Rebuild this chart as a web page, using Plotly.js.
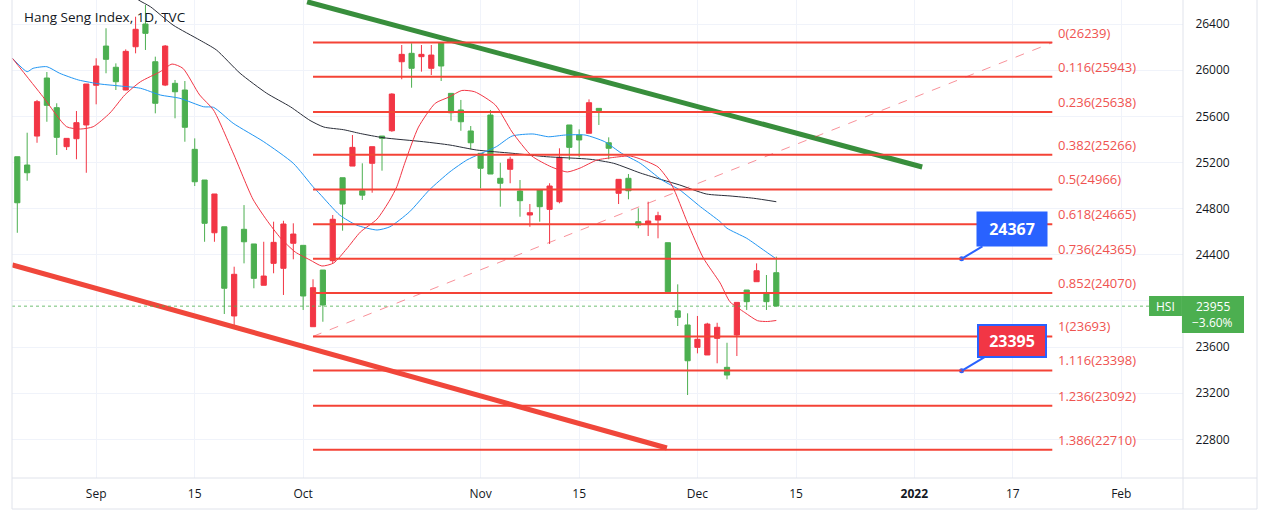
<!DOCTYPE html>
<html>
<head>
<meta charset="utf-8">
<script src="https://cdn.plot.ly/plotly-3.0.1.min.js"></script>
<style>html,body{margin:0;padding:0;background:#fff;}#chart{width:1269px;height:522px;}</style>
</head>
<body>
<div id="chart"></div>
<script>
// ---- Data ----
const dates = ['2021-08-20','2021-08-23','2021-08-24','2021-08-25','2021-08-26','2021-08-27','2021-08-30','2021-08-31',
'2021-09-01','2021-09-02','2021-09-03','2021-09-06','2021-09-07','2021-09-08','2021-09-09','2021-09-10','2021-09-13','2021-09-14','2021-09-15','2021-09-16','2021-09-17','2021-09-20','2021-09-21','2021-09-23','2021-09-24','2021-09-27','2021-09-28','2021-09-29','2021-09-30',
'2021-10-04','2021-10-05','2021-10-06','2021-10-07','2021-10-08','2021-10-11','2021-10-12','2021-10-15','2021-10-18','2021-10-19','2021-10-20','2021-10-21','2021-10-22','2021-10-25','2021-10-26','2021-10-27','2021-10-28','2021-10-29',
'2021-11-01','2021-11-02','2021-11-03','2021-11-04','2021-11-05','2021-11-08','2021-11-09','2021-11-10','2021-11-11','2021-11-12','2021-11-15','2021-11-16','2021-11-17','2021-11-18','2021-11-19','2021-11-22','2021-11-23','2021-11-24','2021-11-25','2021-11-26','2021-11-29','2021-11-30',
'2021-12-01','2021-12-02','2021-12-03','2021-12-06','2021-12-07','2021-12-08','2021-12-09','2021-12-10','2021-12-13'];

const opens  = [25250,25178,25429,25932,25675,25337,25406,25525,25869,26209,26025,25828,26203,26400,26073,25871,25886,25828,25314,25048,24591,24643,23870,24621,24494,24136,24326,24283,24500,
24482,23777,24268,24349,25068,25169,24955,25193,25429,25475,26073,26146,26117,26016,26238,25799,25655,25473,
25279,25611,25063,25141,24953,24745,24962,24794,24860,25525,25438,25453,25669,25371,24933,25063,24687,24667,24701,24505,23915,23792,
23598,23532,23676,23425,23705,24095,24167,24071,24245];
const highs  = [25250,25458,25742,25984,25713,25409,25646,25880,26103,26363,26059,26180,26463,26565,26117,26218,25915,25906,25409,25048,24927,24643,24297,24831,24494,24513,24687,24695,24673,
24482,24188,24268,24745,25068,25438,25193,25337,25429,25800,26218,26233,26218,26218,26238,25799,25742,25516,
25279,25655,25198,25250,25048,24840,24962,25020,25323,25525,25487,25747,25669,25418,25054,25100,24803,24860,24773,24505,24144,23893,
23870,23811,23811,23638,23988,24095,24326,24225,24384];
const lows   = [24591,25042,25371,25553,25265,25308,25228,25111,25704,25973,25828,25826,26146,26175,25626,25862,25583,25380,24996,24513,24513,23887,23792,24326,24110,24136,24240,24052,24361,
23922,23777,23820,24326,24609,25169,24875,24938,25129,25466,25921,25848,25987,25958,25906,25562,25475,25314,
24976,25100,24817,25020,24730,24643,24687,24494,24846,25221,25245,25453,25525,25228,24840,24881,24630,24563,24543,24080,23783,23185,
23546,23532,23460,23321,23523,23922,24167,23922,23956];
const closes = [24851,25111,25727,25695,25418,25409,25545,25880,26036,26094,25900,26163,26354,26319,25713,26209,25813,25505,25033,24673,24927,24110,24231,24513,24196,24216,24508,24667,24580,
24043,24115,23965,24708,24840,25331,24917,25337,25409,25793,26137,26016,26137,26131,26036,25631,25553,25371,
25150,25100,25020,25228,24869,24765,24817,24996,25245,25331,25395,25718,25649,25323,25054,24955,24658,24693,24739,24080,23858,23482,
23668,23800,23772,23358,23988,23994,24262,23994,23956];

// Moving averages sampled along the drawn lines (bar position, value)
const maFastX = [-0.5,2.6,5.0,6.4,7.7,9.4,10.9,12.5,14.5,15.7,16.8,18.5,19.9,21.9,23.9,25.3,26.7,28.2,29.7,30.9,32.1,33.4,34.8,36.5,37.8,38.5,39.3,40.7,42.4,43.8,45.1,46.4,48.5,50.2,52.2,54.2,55.8,57.1,58.8,60.4,62.2,63.5,65.0,66.4,68.0,69.6,71.3,72.3,73.8,75.1,76.1,77.0];
const maFastV = [26103,25770,25510,25490,25510,25629,25785,25900,25987,26053,26016,25785,25655,25282,24883,24701,24546,24424,24355,24303,24329,24450,24597,24710,24875,24990,25193,25507,25713,25767,25824,25813,25698,25464,25256,25161,25118,25152,25221,25243,25256,25221,25161,25005,24676,24372,24156,23993,23900,23829,23822,23831];
const maMidX = [-0.5,1.0,1.6,3.0,4.3,6.2,8.4,10.4,12.5,14.5,16.5,18.9,19.9,21.9,25.0,28.0,30.0,30.7,32.7,34.4,36.5,37.8,39.8,41.8,43.9,45.6,46.9,48.6,50.2,52.3,53.9,55.6,57.6,59.6,61.3,63.2,65.4,67.2,69.3,71.3,72.0,74.0,75.7,76.9];
const maMidV = [26103,25987,26016,26030,25973,25915,25880,25863,25843,25785,25756,25683,25678,25540,25380,25193,24990,24927,24745,24658,24615,24643,24773,24962,25120,25221,25273,25337,25429,25447,25423,25438,25438,25380,25280,25193,25048,24962,24817,24687,24630,24543,24442,24370];
const maSlowX = [11.4,12.3,13.5,15.8,18.5,20.2,22.6,25.3,27.7,29.7,31.1,33.1,34.8,37.1,41.2,43.9,46.6,50.2,53.7,58.1,60.5,63.2,65.5,67.2,69.9,72.3,74.7,77.0];
const maSlowV = [26677,26608,26550,26391,26261,26175,25973,25800,25683,25564,25507,25484,25451,25415,25380,25351,25308,25280,25250,25228,25193,25109,25048,25005,24927,24910,24890,24860];

// Fibonacci retracement levels
const fibRatios = ['0','0.116','0.236','0.382','0.5','0.618','0.736','0.852','1','1.116','1.236','1.386'];
const fibPrices = [26239,25943,25638,25266,24966,24665,24365,24070,23693,23398,23092,22710];
const fibStartBar = 30, fibEndBar = 105;

// Trend lines (bar position, price)
const greenTrend = {x:[29.4, 91.8], y:[26593, 25161]};
const redTrend   = {x:[-0.5, 65.9], y:[24312, 22726]};

// Price notes
const noteBlue = {bar:95.8, price:24365, text:'24367'};
const noteRed  = {bar:95.8, price:23395, text:'23395'};
const lastPrice = 23955, lastChange = '−3.60%', symbol = 'HSI';

// Axis ticks
const xTickBars = [8,18,29,47,57,69,79,91,101,112];
const xTickText = ['Sep','15','Oct','Nov','15','Dec','15','<b>2022</b>','17','Feb'];
const yTicks = [22800,23200,23600,24000,24400,24800,25200,25600,26000,26400];
const yTickText = ['22800','23200','23600','','24400','24800','25200','25600','26000','26400'];

// ---- Build chart ----
const FONT = 'Open Sans, Roboto, sans-serif';
const RED = '#f23645', GREEN = '#4caf50', BLUE = '#2962ff';
const barIdx = dates.map((d,i)=>i);

const traces = [
  {type:'candlestick', x:barIdx, open:opens, high:highs, low:lows, close:closes,
   increasing:{line:{color:RED,width:1}, fillcolor:RED},
   decreasing:{line:{color:GREEN,width:1}, fillcolor:GREEN},
   whiskerwidth:0, hoverinfo:'skip'},
  {type:'scatter', mode:'lines', x:maSlowX, y:maSlowV, line:{color:'#2a2e39',width:1,shape:'spline',smoothing:0.6}, hoverinfo:'skip'},
  {type:'scatter', mode:'lines', x:maMidX, y:maMidV, line:{color:'#2196f3',width:1,shape:'spline',smoothing:0.6}, hoverinfo:'skip'},
  {type:'scatter', mode:'lines', x:maFastX, y:maFastV, line:{color:'#f23645',width:1,shape:'spline',smoothing:0.6}, hoverinfo:'skip'},
  {type:'scatter', mode:'lines', x:greenTrend.x, y:greenTrend.y, line:{color:'#388e3c',width:5}, hoverinfo:'skip'},
  {type:'scatter', mode:'lines', x:redTrend.x, y:redTrend.y, line:{color:'#f0473b',width:5}, hoverinfo:'skip'},
  {type:'scatter', mode:'markers', x:[noteBlue.bar, noteRed.bar], y:[noteBlue.price, noteRed.price],
   marker:{size:5,color:BLUE}, hoverinfo:'skip'}
];

const shapes = [];
fibPrices.forEach(p=>{
  shapes.push({type:'line', xref:'x', yref:'y', x0:fibStartBar, x1:fibEndBar, y0:p, y1:p,
    line:{color:'#f44336', width:2}});
});
shapes.push({type:'line', xref:'x', yref:'y', x0:fibStartBar, x1:fibEndBar, y0:fibPrices[8], y1:fibPrices[0],
  line:{color:'rgba(242,54,69,0.55)', width:1, dash:'dash'}});
shapes.push({type:'line', xref:'paper', yref:'y', x0:0, x1:0.971, y0:lastPrice, y1:lastPrice,
  line:{color:'rgba(76,175,80,0.8)', width:1, dash:'dot'}});
const G = '#e0e3eb';
const pB = -31/478;
shapes.push({type:'line', xref:'paper', yref:'paper', x0:1, x1:1, y0:pB, y1:1, line:{color:G,width:1}});
shapes.push({type:'line', xref:'paper', yref:'paper', x0:0, x1:1.0632, y0:0, y1:0, line:{color:G,width:1}});
shapes.push({type:'line', xref:'paper', yref:'paper', x0:0, x1:1.0632, y0:pB, y1:pB, line:{color:G,width:1}});
shapes.push({type:'line', xref:'paper', yref:'paper', x0:0, x1:0, y0:pB, y1:1, line:{color:G,width:1}});
shapes.push({type:'line', xref:'paper', yref:'paper', x0:1.0632, x1:1.0632, y0:pB, y1:1, line:{color:G,width:1}});
shapes.push({type:'rect', xref:'paper', yref:'paper', x0:0.971, x1:0.9991, y0:0.3389, y1:0.3808, fillcolor:GREEN, line:{width:0}});
shapes.push({type:'rect', xref:'paper', yref:'paper', x0:0.9991, x1:1.0521, y0:0.3033, y1:0.3808, fillcolor:GREEN, line:{width:0}});

const annotations = [];
fibPrices.forEach((p,i)=>{
  annotations.push({xref:'x', yref:'y', x:fibEndBar+0.4, y:p, xanchor:'left', yanchor:'bottom', yshift:-1,
    text:fibRatios[i]+'('+p+')', showarrow:false, font:{family:FONT, size:13, color:'#ef5350'}});
});
annotations.push({xref:'paper', yref:'paper', x:0.0085, y:0.9644, xanchor:'left', yanchor:'middle',
  text:'Hang Seng Index, 1D, TVC', showarrow:false, font:{family:FONT,size:13.5,color:'#131722'}});
annotations.push({xref:'x', yref:'y', x:noteBlue.bar, y:noteBlue.price, ax:50, ay:-30, axref:'pixel', ayref:'pixel',
  text:'<b>'+noteBlue.text+'</b>', showarrow:true, arrowhead:0, arrowwidth:2, arrowcolor:BLUE, standoff:0,
  bgcolor:BLUE, borderpad:4, width:62, height:26, font:{family:FONT,size:16,color:'#ffffff'}});
annotations.push({xref:'x', yref:'y', x:noteRed.bar, y:noteRed.price, ax:50, ay:-30, axref:'pixel', ayref:'pixel',
  text:'<b>'+noteRed.text+'</b>', showarrow:true, arrowhead:0, arrowwidth:2, arrowcolor:BLUE, standoff:0,
  bgcolor:'#f23645', bordercolor:BLUE, borderwidth:2, borderpad:2, width:62, height:26, font:{family:FONT,size:16,color:'#ffffff'}});
annotations.push({xref:'paper', yref:'paper', x:0.985, y:0.3598, xanchor:'center', yanchor:'middle', text:symbol,
  showarrow:false, font:{family:FONT,size:12,color:'#ffffff'}});
annotations.push({xref:'paper', yref:'paper', x:1.0256, y:0.3598, xanchor:'center', yanchor:'middle', text:String(lastPrice),
  showarrow:false, font:{family:FONT,size:12,color:'#ffffff'}});
annotations.push({xref:'paper', yref:'paper', x:1.0256, y:0.3253, xanchor:'center', yanchor:'middle', text:lastChange,
  showarrow:false, font:{family:FONT,size:12,color:'#ffffff'}});

const layout = {
  width:1269, height:522,
  margin:{l:12, r:86, t:0, b:44, pad:0},
  paper_bgcolor:'#ffffff', plot_bgcolor:'#ffffff',
  showlegend:false, boxgap:0.25,
  font:{family:FONT, size:12, color:'#131722'},
  xaxis:{range:[-0.538,118.26], tickvals:xTickBars, ticktext:xTickText, showgrid:true, gridcolor:'#f0f3fa',
    zeroline:false, showline:false, ticks:'outside', ticklen:5, tickcolor:'rgba(0,0,0,0)',
    tickfont:{family:FONT,size:12,color:'#131722'}, rangeslider:{visible:false}, fixedrange:true},
  yaxis:{side:'right', range:[22466,26608], tickvals:yTicks, ticktext:yTickText, showgrid:true, gridcolor:'#f0f3fa',
    zeroline:false, showline:false, ticks:'outside', ticklen:9, tickcolor:'rgba(0,0,0,0)',
    tickfont:{family:FONT,size:12,color:'#131722'}, fixedrange:true},
  shapes:shapes, annotations:annotations
};

Plotly.newPlot('chart', traces, layout, {displayModeBar:false, staticPlot:true});
</script>
</body>
</html>
